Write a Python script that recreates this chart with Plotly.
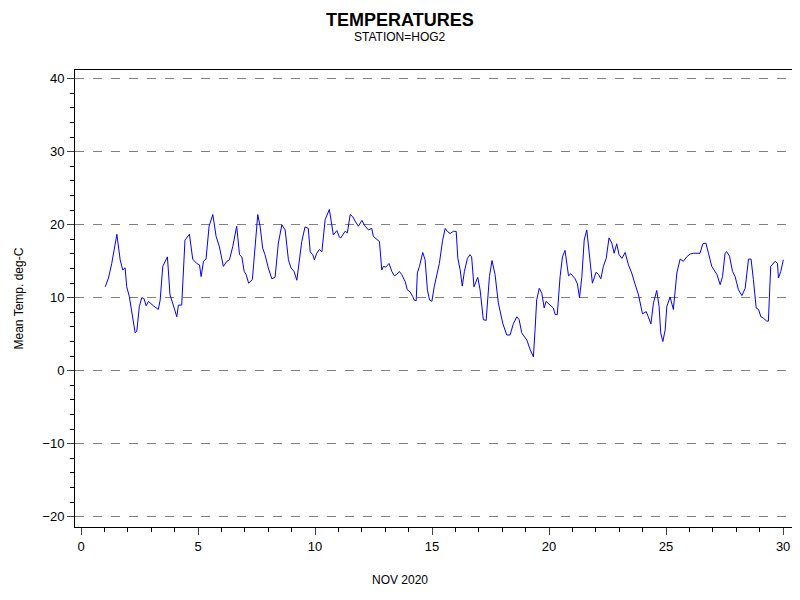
import plotly.graph_objects as go

# day of month (fractional) and mean temperature
days = [
    1.03, 1.17, 1.31, 1.53, 1.67, 1.78, 1.88, 1.95, 2.06, 2.17, 2.31, 2.38, 2.49, 2.59,
    2.69, 2.78, 2.88, 3.09, 3.30, 3.38, 3.49, 3.69, 3.80, 3.94, 4.09, 4.16, 4.30, 4.44,
    4.63, 4.77, 4.94, 5.06, 5.13, 5.23, 5.34, 5.47, 5.63, 5.77, 5.91, 6.08, 6.23, 6.34,
    6.48, 6.65, 6.77, 6.87, 6.97, 7.05, 7.16, 7.32, 7.44, 7.55, 7.65, 7.76, 7.86, 8.00,
    8.15, 8.29, 8.43, 8.58, 8.72, 8.86, 8.97, 9.10, 9.22, 9.33, 9.43, 9.57, 9.71, 9.79,
    9.90, 9.97, 10.07, 10.18, 10.29, 10.43, 10.61, 10.78, 10.93, 11.04,
    11.10, 11.28, 11.38, 11.50, 11.61, 11.71, 11.85, 12.00, 12.14, 12.28, 12.42, 12.49,
    12.64, 12.75, 12.85, 12.92, 13.02, 13.16, 13.28, 13.39, 13.49, 13.60, 13.70, 13.85,
    13.94, 14.06, 14.17, 14.23, 14.32, 14.37, 14.46, 14.60, 14.70, 14.80, 14.89, 14.99,
    15.09, 15.31, 15.45, 15.56, 15.65, 15.77, 15.91, 16.03, 16.10, 16.20, 16.29, 16.38,
    16.51, 16.62, 16.69, 16.79, 16.95, 17.05, 17.19, 17.31, 17.45, 17.56, 17.69, 17.83,
    18.02, 18.19, 18.33, 18.48, 18.62, 18.72, 18.83, 19.05, 19.19, 19.33, 19.40, 19.47,
    19.58, 19.69, 19.79, 19.87, 20.04, 20.18, 20.26, 20.35, 20.47, 20.57, 20.68, 20.83,
    20.93, 21.11, 21.21, 21.30,
    21.40, 21.50, 21.61, 21.72, 21.85, 22.01, 22.11, 22.21, 22.32, 22.44, 22.56, 22.68,
    22.78, 22.89, 22.99, 23.11, 23.25, 23.39, 23.53, 23.68, 23.82, 23.99, 24.15, 24.24,
    24.35, 24.46, 24.60, 24.70, 24.77, 24.86, 24.96, 25.03, 25.17, 25.31, 25.46, 25.60,
    25.74, 25.88, 26.03, 26.17, 26.32, 26.45, 26.57, 26.70, 26.81, 26.95, 27.05, 27.17,
    27.31, 27.41, 27.52, 27.59, 27.71, 27.84, 27.95, 28.09, 28.24, 28.38, 28.52, 28.63,
    28.73, 28.85, 28.95, 29.05, 29.16, 29.30, 29.37, 29.47, 29.66, 29.76, 29.80, 29.90,
    30.01,
]
temps = [
    11.5, 12.7, 14.7, 18.7, 15.2, 13.8, 14.1, 11.5, 10.2, 7.7, 5.2, 5.4, 8.8, 10.0,
    9.9, 8.9, 9.5, 8.9, 8.4, 9.7, 14.3, 15.6, 10.4, 9.0, 7.4, 9.0, 9.0, 17.9,
    18.7, 15.3, 14.7, 14.5, 12.9, 15.0, 15.3, 19.8, 21.4, 18.4, 17.0, 14.3, 15.0, 15.2,
    17.0, 19.8, 15.9, 15.6, 13.6, 13.2, 12.0, 12.5, 17.5, 21.4, 19.8, 16.8, 15.9, 14.1,
    12.6, 12.8, 17.5, 20.0, 19.3, 15.2, 14.1, 13.6, 12.4, 15.0, 17.7, 19.7, 19.5, 16.3,
    15.9, 15.2, 16.1, 16.6, 16.3, 20.7, 22.1, 18.6, 19.2, 18.3,
    18.2, 19.1, 18.9, 21.4, 21.1, 20.5, 19.8, 20.6, 19.8, 19.3, 19.5, 18.4,
    18.0, 17.7, 13.8, 14.3, 14.2, 14.7, 13.6, 13.0, 13.2, 13.6, 13.2, 12.2,
    11.1, 10.8, 10.2, 9.7, 9.6, 13.4, 14.3, 16.2, 15.2, 11.1, 9.7, 9.5,
    11.5, 14.7, 17.9, 19.5, 19.1, 18.8, 19.1, 19.1, 15.4, 13.8, 11.6, 13.6,
    15.4, 15.9, 15.6, 11.5, 12.8, 11.1, 7.0, 6.9, 12.9, 15.1, 13.2, 9.3,
    6.5, 4.9, 4.9, 6.5, 7.4, 7.0, 5.2, 4.2, 2.9, 1.9, 5.6, 9.7,
    11.3, 10.6, 8.6, 9.5, 9.0, 8.6, 7.7, 7.7, 12.9, 15.6, 16.5, 13.0,
    13.3, 12.6, 11.9, 10.0,
    12.9, 17.9, 19.3, 16.1, 12.0, 13.5, 13.2, 12.6, 14.3, 15.4, 18.2, 17.5,
    16.1, 17.4, 15.9, 15.4, 16.2, 14.5, 13.4, 11.8, 10.4, 7.8, 8.1, 7.4,
    6.4, 9.3, 11.0, 8.8, 5.2, 4.0, 5.6, 8.8, 10.1, 8.4, 13.4, 15.3,
    15.0, 15.6, 16.0, 16.1, 16.1, 16.1, 17.4, 17.5, 16.1, 14.3, 13.8, 13.2,
    11.8, 12.9, 16.1, 16.3, 15.7, 13.6, 12.9, 11.1, 10.3, 11.3, 15.3, 15.3,
    12.5, 8.6, 8.4, 7.4, 7.2, 6.8, 6.8, 14.3, 15.0, 14.7, 12.7, 13.6,
    15.2,
]

x_ticks = [0, 5, 10, 15, 20, 25, 30]
y_ticks = [-20, -10, 0, 10, 20, 30, 40]

# the page shows the figure 8px in from the top-left, so it is drawn 8px smaller
W, H = 792, 592
L, R, T, B = 67, 8, 62, 73
pw = W - L - R
ph = H - T - B

fig = go.Figure()
fig.add_trace(go.Scatter(x=days, y=temps, mode="lines",
                         line=dict(color="#0000ff", width=1), showlegend=False))

cx = (392 - L) / pw
fig.update_layout(
    width=W, height=H,
    paper_bgcolor="white", plot_bgcolor="white",
    margin=dict(l=L, r=R, t=T, b=B, autoexpand=False),
    font=dict(family="Arial, Liberation Sans", size=12, color="black"),
    annotations=[
        dict(text="<b>TEMPERATURES</b>", x=cx, y=1 + T / ph,
             xref="paper", yref="paper", xanchor="center", yanchor="top",
             showarrow=False, font=dict(size=18)),
        dict(text="STATION=HOG2", x=cx, y=1 + (T - 29) / ph,
             xref="paper", yref="paper", xanchor="center", yanchor="middle",
             showarrow=False, font=dict(size=12)),
        dict(text="NOV 2020", x=cx, y=-(572 - (H - B)) / ph,
             xref="paper", yref="paper", xanchor="center", yanchor="middle",
             showarrow=False, font=dict(size=12)),
        dict(text="Mean Temp. deg-C", x=-(L - 10) / pw, y=0.5,
             xref="paper", yref="paper", xanchor="center", yanchor="middle",
             textangle=-90, showarrow=False, font=dict(size=12)),
    ],
)

fig.update_xaxes(
    range=[-0.26, 30.38], tickvals=x_ticks, ticks="outside", ticklen=7,
    minor=dict(dtick=1, ticks="outside", ticklen=4, tickcolor="black"),
    showgrid=False, zeroline=False, showline=True, linecolor="black", mirror=True,
    automargin=False, tickfont=dict(size=13),
)
fig.update_yaxes(
    range=[-21.4, 41.2], tickvals=y_ticks, ticks="outside", ticklen=7,
    minor=dict(dtick=2, ticks="outside", ticklen=4, tickcolor="black", showgrid=False),
    showgrid=True, gridcolor="#808080", griddash="dash", gridwidth=1,
    zeroline=False, showline=True, linecolor="black", mirror=True,
    automargin=False, tickfont=dict(size=13),
)

fig.write_html("out.html")
